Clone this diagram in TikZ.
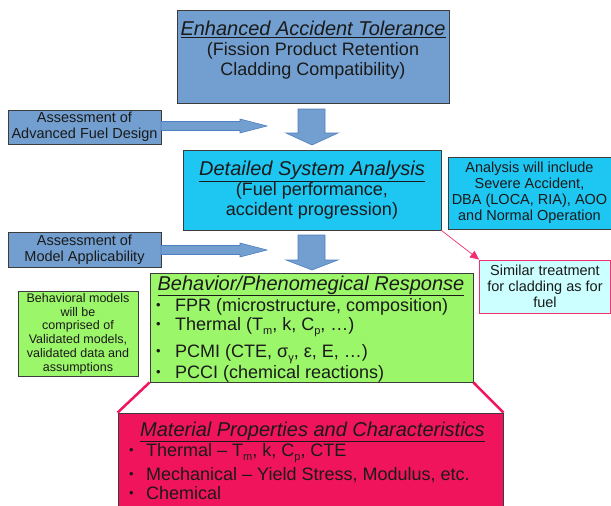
\documentclass[tikz,border=0pt]{standalone}
\usepackage{fontspec}
\setmainfont{Liberation Sans}
\usepackage[HTML]{xcolor}
\usepackage{tikz}
\usetikzlibrary{positioning, arrows.meta}

\definecolor{boxline}{HTML}{3C3C3C}
\definecolor{eatblue}{HTML}{729FCF}
\definecolor{arrline}{HTML}{4F7FBF}
\definecolor{dsacyan}{HTML}{1EC6F2}
\definecolor{bprgreen}{HTML}{9CF66A}
\definecolor{mpcpink}{HTML}{F0145C}
\definecolor{linkpink}{HTML}{F0306E}
\definecolor{simcyan}{HTML}{CCFFFF}

\newcommand{\heading}[1]{{\fontsize{20}{21}\selectfont\underline{\textit{#1}}}}
\newcommand{\bul}{{\fontsize{13}{13}\selectfont\raisebox{2pt}{•}}}
\newcommand{\lowsub}[1]{\raisebox{-4pt}{\fontsize{11}{11}\selectfont #1}}
\newcommand{\hblock}[1]{\draw[blockarrow] (161,#1-4.5) -- (240,#1-4.5) -- (240,#1-7) -- (267,#1) -- (240,#1+7) -- (240,#1+4.5) -- (161,#1+4.5) -- cycle;}
\newcommand{\vblock}[3]{\draw[blockarrow] (298,#1) -- (325,#1) -- (325,#2) -- (338,#2) -- (312,#3) -- (286,#2) -- (298,#2) -- cycle;}

\tikzset{
  box/.style={draw=boxline, line width=0.8pt, inner sep=0pt, align=center, text=black!90},
  bigtext/.style={font=\fontsize{18}{20}\selectfont},
  smalltext/.style={font=\fontsize{14.5}{16}\selectfont},
  tinytext/.style={font=\fontsize{12.5}{13.8}\selectfont},
  blockarrow/.style={fill=eatblue, draw=arrline, line width=0.6pt},
  itemline/.style={anchor=base west, inner sep=0pt, font=\fontsize{18}{20}\selectfont, text=black!90},
}

\begin{document}
\begin{tikzpicture}[x=1pt, y=-1pt]
\useasboundingbox (0,0) rectangle (611,506);
\clip (0,0) rectangle (611,506);

% main chain
\node[box, bigtext, fill=eatblue, minimum width=272pt, minimum height=93pt] (eat) at (313,56.5)
  {\heading{Enhanced Accident Tolerance}\\(Fission Product Retention\\Cladding Compatibility)\\[-4pt]};
\node[box, bigtext, fill=dsacyan, minimum width=258pt, minimum height=80pt] (dsa) at (312,190)
  {\heading{Detailed System Analysis}\\(Fuel performance,\\accident progression)};
\node[box, fill=bprgreen, minimum width=323pt, minimum height=109pt] (bpr) at (311.5,327.5) {};
\node[box, fill=mpcpink, minimum width=385pt, minimum height=107pt] (mpc) at (310.5,466.5) {};

% side notes
\node[box, smalltext, fill=eatblue, minimum width=153pt, minimum height=34pt] (afd) at (84.5,127)
  {Assessment of\\Advanced Fuel Design};
\node[box, smalltext, fill=eatblue, minimum width=153pt, minimum height=35pt] (ama) at (84.5,249.5)
  {Assessment of\\Model Applicability};
\node[box, smalltext, fill=dsacyan, minimum width=163pt, minimum height=72pt] (inc) at (529.5,193)
  {Analysis will include\\Severe Accident,\\DBA (LOCA, RIA), AOO\\and Normal Operation};
\node[box, smalltext, draw=linkpink, fill=simcyan, minimum width=131pt, minimum height=53pt] (sim) at (545,286.5)
  {Similar treatment\\for cladding as for\\fuel};
\node[box, tinytext, fill=bprgreen, minimum width=120pt, minimum height=85pt] (bhm) at (78,333.5)
  {Behavioral models\\will be\\comprised of\\Validated models,\\validated data and\\assumptions};

% contents of the green box
\node[anchor=base, inner sep=0pt, text=black!90] (bprtitle) at (311,290) {\heading{Behavior/Phenomegical Response}};
\node[itemline] (fpr) at (156,311) {\makebox[19pt][l]{\bul}FPR (microstructure, composition)};
\node[itemline] (thm) at (156,330) {\makebox[19pt][l]{\bul}Thermal (T\lowsub{m}, k, C\lowsub{p}, …)};
\node[itemline] (pcmi) at (156,357) {\makebox[19pt][l]{\bul}PCMI (CTE, σ\lowsub{γ}, ε, E, …)};
\node[itemline] (pcci) at (156,378) {\makebox[19pt][l]{\bul}PCCI (chemical reactions)};

% contents of the pink box
\node[anchor=base, inner sep=0pt, text=black!90] (mpctitle) at (312.5,436) {\heading{Material Properties and Characteristics}};
\node[itemline] (mthm) at (129,456) {\makebox[17pt][l]{\bul}Thermal – T\lowsub{m}, k, C\lowsub{p}, CTE};
\node[itemline] (mmech) at (129,480) {\makebox[17pt][l]{\bul}Mechanical – Yield Stress, Modulus, etc.};
\node[itemline] (mchem) at (129,499) {\makebox[17pt][l]{\bul}Chemical};

% block arrows
\vblock{109}{133}{145}
\vblock{235}{260}{270}
\hblock{126}
\hblock{250}

% links
\draw[linkpink, line width=0.7pt, -{Triangle[length=9pt, width=8pt]}] (dsa.south east) -- (sim.north west);
\draw[mpcpink, line width=2.5pt] (bpr.south west) -- (mpc.north west);
\draw[mpcpink, line width=2.5pt] (bpr.south east) -- (mpc.north east);
\end{tikzpicture}
\end{document}
